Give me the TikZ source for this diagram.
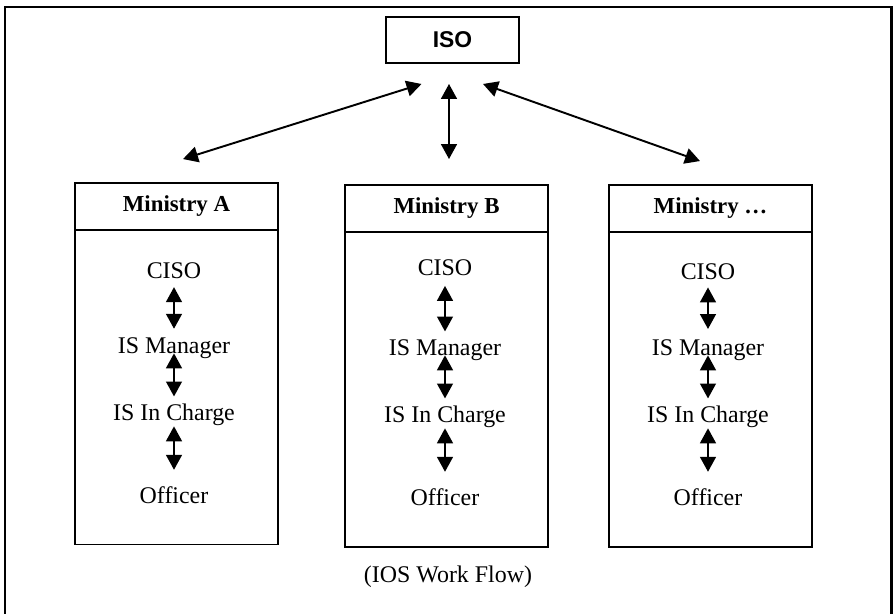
\documentclass[tikz,border=0pt]{standalone}
\usepackage{fontspec}
\setmainfont{Liberation Serif}
\newfontfamily\arialfont{Liberation Sans}
\usepackage{tikz}
\usetikzlibrary{arrows.meta}

\tikzset{
	isobox/.style={rectangle, draw, line width=1.1pt, minimum width=2.66cm, minimum height=0.92cm, font=\arialfont\bfseries\fontsize{13}{15}\selectfont},
	minhead/.style={rectangle, draw, line width=1.1pt, minimum width=4.06cm, minimum height=0.94cm, text height=8.6pt, text depth=2.5pt, font=\bfseries\fontsize{13}{15}\selectfont},
	minbody/.style={rectangle, draw, line width=1.1pt, minimum width=4.06cm, minimum height=6.3cm},
	role/.style={inner sep=0pt, text height=9pt, text depth=0pt, anchor=base, font=\fontsize{13.6}{16}\selectfont},
	link/.style={{Triangle[length=8.5pt,width=9pt]}-{Triangle[length=8.5pt,width=9pt]}, line width=1.1pt},
}

\begin{document}
\begin{tikzpicture}
		\useasboundingbox (0,0) rectangle (17.86,-12.26);
		\draw [line width=1.7pt] (0.1,-12.4) -- (0.1,-0.14) -- (17.82,-0.14) -- (17.82,-12.4);
		
		\node (iso) [isobox] at (9.05,-0.80) {ISO};
		
		\node (bodyA) [minbody] at (3.53,-7.74) {};
		\node (minA) [minhead] at (3.53,-4.13) {Ministry A};
		\node (bodyB) [minbody] at (8.93,-7.79) {};
		\node (minB) [minhead] at (8.93,-4.17) {Ministry B};
		\node (bodyX) [minbody] at (14.21,-7.79) {};
		\node (minX) [minhead] at (14.21,-4.17) {Ministry …};
		
		\draw [link] ([xshift=0.13cm,yshift=0.46cm]minA.north) -- ([xshift=-0.62cm,yshift=-0.4cm]iso.south);
		\draw [link] ([xshift=0.05cm,yshift=0.5cm]minB.north) -- ([xshift=-0.07cm,yshift=-0.4cm]iso.south);
		\draw [link] ([xshift=-0.21cm,yshift=0.46cm]minX.north) -- ([xshift=0.61cm,yshift=-0.4cm]iso.south);
		
		% Ministry A
		\node (cisoA) [role] at (3.48,-5.56) {CISO};
		\node (mgrA) [role] at (3.48,-7.06) {IS Manager};
		\node (chargeA) [role] at (3.48,-8.40) {IS In Charge};
		\node (officerA) [role] at (3.48,-10.06) {Officer};
		\draw [link, shorten <=5pt, shorten >=4.6pt] (cisoA) -- (mgrA);
		\draw [link, shorten <=0pt, shorten >=4.2pt] (mgrA) -- (chargeA);
		\draw [link, shorten <=3.4pt, shorten >=9.7pt] (chargeA) -- (officerA);
		
		% Ministry B
		\node (cisoB) [role] at (8.90,-5.50) {CISO};
		\node (mgrB) [role] at (8.90,-7.10) {IS Manager};
		\node (chargeB) [role] at (8.90,-8.44) {IS In Charge};
		\node (officerB) [role] at (8.90,-10.10) {Officer};
		\draw [link, shorten <=6pt, shorten >=4.2pt] (cisoB) -- (mgrB);
		\draw [link, shorten <=0pt, shorten >=4.2pt] (mgrB) -- (chargeB);
		\draw [link, shorten <=3.4pt, shorten >=9.7pt] (chargeB) -- (officerB);
		
		% Ministry ...
		\node (cisoX) [role] at (14.16,-5.58) {CISO};
		\node (mgrX) [role] at (14.16,-7.10) {IS Manager};
		\node (chargeX) [role] at (14.16,-8.44) {IS In Charge};
		\node (officerX) [role] at (14.16,-10.10) {Officer};
		\draw [link, shorten <=4.6pt, shorten >=5.6pt] (cisoX) -- (mgrX);
		\draw [link, shorten <=0pt, shorten >=4.2pt] (mgrX) -- (chargeX);
		\draw [link, shorten <=3.4pt, shorten >=9.7pt] (chargeX) -- (officerX);
		
		\node (caption) [anchor=base, font=\fontsize{13.6}{16}\selectfont] at (8.96,-11.64) {(IOS Work Flow)};
		
\end{tikzpicture}
\end{document}
